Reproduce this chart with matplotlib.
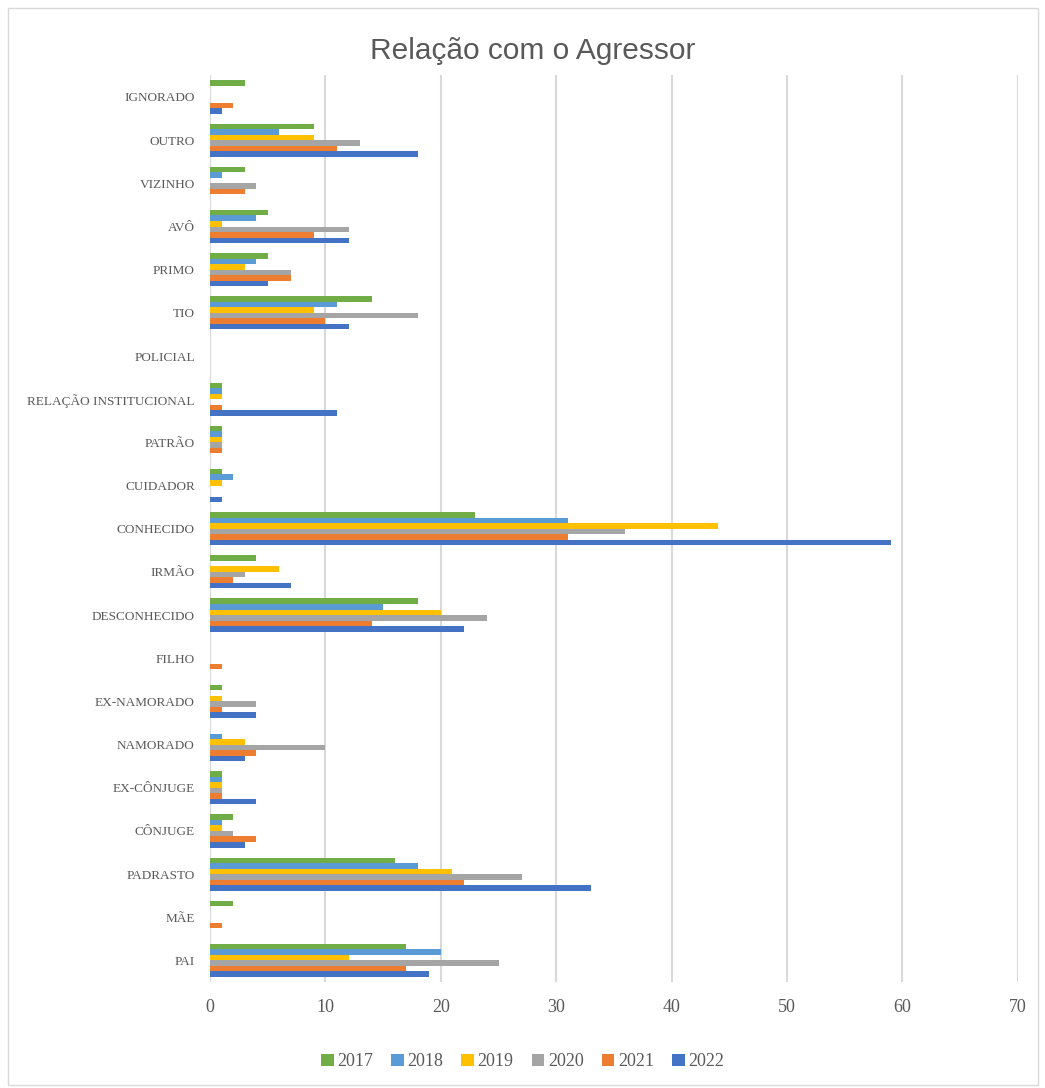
import matplotlib
matplotlib.use("Agg")
import matplotlib.pyplot as plt
import numpy as np
from matplotlib.patches import Rectangle

categories = ["PAI", "MÃE", "PADRASTO", "CÔNJUGE", "EX-CÔNJUGE", "NAMORADO",
              "EX-NAMORADO", "FILHO", "DESCONHECIDO", "IRMÃO", "CONHECIDO",
              "CUIDADOR", "PATRÃO", "RELAÇÃO INSTITUCIONAL", "POLICIAL", "TIO",
              "PRIMO", "AVÔ", "VIZINHO", "OUTRO", "IGNORADO"]
years = ["2017", "2018", "2019", "2020", "2021", "2022"]

v2017 = [17, 2, 16, 2, 1, 0, 1, 0, 18, 4, 23, 1, 1, 1, 0, 14, 5, 5, 3, 9, 3]
v2018 = [20, 0, 18, 1, 1, 1, 0, 0, 15, 0, 31, 2, 1, 1, 0, 11, 4, 4, 1, 6, 0]
v2019 = [12, 0, 21, 1, 1, 3, 1, 0, 20, 6, 44, 1, 1, 1, 0, 9, 3, 1, 0, 9, 0]
v2020 = [25, 0, 27, 2, 1, 10, 4, 0, 24, 3, 36, 0, 1, 0, 0, 18, 7, 12, 4, 13, 0]
v2021 = [17, 1, 22, 4, 1, 4, 1, 1, 14, 2, 31, 0, 1, 1, 0, 10, 7, 9, 3, 11, 2]
v2022 = [19, 0, 33, 3, 4, 3, 4, 0, 22, 7, 59, 1, 0, 11, 0, 12, 5, 12, 0, 18, 1]

series = [v2017, v2018, v2019, v2020, v2021, v2022]
colors = ["#70AD47", "#5B9BD5", "#FFC000", "#A5A5A5", "#ED7D31", "#4472C4"]

fig = plt.figure(figsize=(10.45, 10.88), dpi=100)
ax = fig.add_axes([0.201, 0.0974, 0.773, 0.8333])

n = len(series)
bh = 0.128
y = np.arange(len(categories))
for i, (vals, c, yr) in enumerate(zip(series, colors, years)):
    offset = (n - 1) / 2 * bh - i * bh
    ax.barh(y + offset, vals, height=bh, color=c, label=yr, zorder=3)

ax.set_xlim(0, 70)
ax.set_ylim(-0.5, len(categories) - 0.5)
ax.set_xticks(range(0, 71, 10))
ax.set_yticks(y)
ax.set_yticklabels(categories)
ax.grid(axis="x", color="#D9D9D9", linewidth=1.5, zorder=0)
for s in ax.spines.values():
    s.set_visible(False)
ax.tick_params(axis="both", length=0, colors="#595959")
for lab in ax.get_yticklabels():
    lab.set_fontfamily("Liberation Serif")
    lab.set_fontsize(9.5)
    lab.set_color("#595959")
for lab in ax.get_xticklabels():
    lab.set_fontfamily("Liberation Serif")
    lab.set_fontsize(13)
    lab.set_color("#595959")
ax.tick_params(axis="x", pad=12)
ax.tick_params(axis="y", pad=11)

fig.text(0.510, 0.953, "Relação com o Agressor", ha="center", va="center",
         fontsize=21.5, color="#595959", family="Liberation Sans")

leg = fig.legend(loc="center", bbox_to_anchor=(0.5, 0.024), ncol=6, frameon=False,
                 prop={"family": "Liberation Serif", "size": 13},
                 handlelength=0.7, handleheight=0.7, handletextpad=0.2,
                 columnspacing=1.0)
for t in leg.get_texts():
    t.set_color("#595959")

fig.patches.append(Rectangle((0.008, 0.003), 0.985, 0.99, transform=fig.transFigure,
                             fill=False, edgecolor="#D9D9D9", linewidth=1))

fig.savefig("out.png", dpi=100, facecolor="white")
